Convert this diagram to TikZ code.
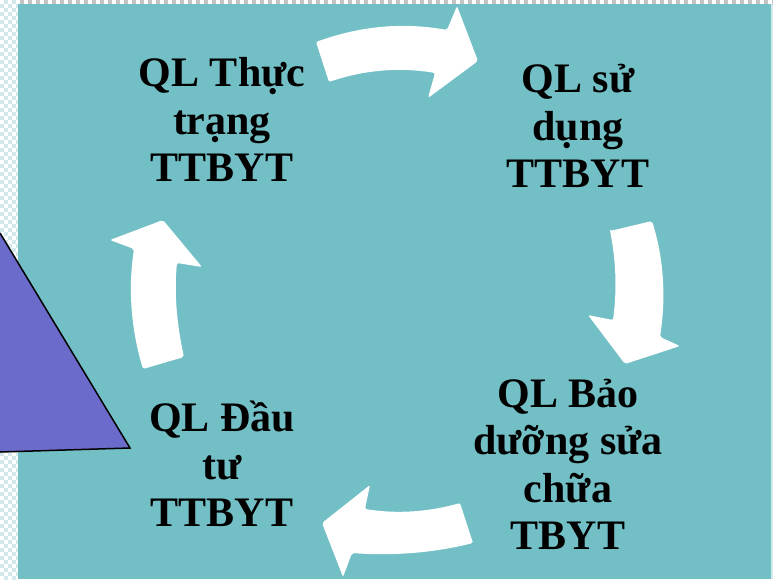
\documentclass[tikz,border=0pt]{standalone}
\usepackage{fontspec}
\setmainfont{Liberation Serif}
\definecolor{nen}{HTML}{72BFC6}
\definecolor{tim}{HTML}{6B6BCC}
\definecolor{ocaro}{HTML}{D3E9EC}
\definecolor{ocaroxam}{HTML}{C4C4C4}
\tikzset{>=stealth}

\begin{document}
\begin{tikzpicture}[x=1pt,y=-1pt,
    muiten/.style={fill=white,rounded corners=2pt},
    chu/.style={font=\fontsize{42}{47.5}\selectfont\bfseries,align=center,inner sep=0pt,anchor=south}]
    \useasboundingbox (0,0) rectangle (773,579);
    \fill[white] (0,0) rectangle (773,579);
    \foreach \r in {0,...,144}
      \foreach \c in {0,...,4}{
        \pgfmathtruncatemacro\le{mod(\r+\c,2)}
        \ifnum\le=1 \fill[ocaro] (\c*4,\r*4) rectangle ++(4,4);\fi}
    \foreach \c in {5,...,193}{
        \pgfmathtruncatemacro\le{mod(\c,2)}
        \ifnum\le=1 \fill[ocaroxam] (\c*4,0) rectangle ++(4,3.5);\fi}
    \fill[ocaro] (771,3.5) rectangle (773,579);
    \fill[nen] (18,3.5) rectangle (771,579);
    \filldraw[fill=tim,draw=black,line width=1.5pt] (0,233) -- (130,448) -- (0,452);
    \fill[muiten] (316,42) .. controls (360,26) and (403,22) .. (447,30) -- (457,6) -- (478,61)
      -- (428,98) -- (435,73) .. controls (400,67) and (364,70) .. (329,82) -- cycle;
    \fill[muiten] (610,231) -- (652,221) .. controls (664,259) and (666,298) .. (660,337) -- (680,346)
      -- (625,364) -- (588,315) -- (613,320) .. controls (617,290) and (616,261) .. (610,231) -- cycle;
    \fill[muiten] (473,543) -- (460,503) .. controls (428,512) and (397,514) .. (365,509) -- (370,485)
      -- (322,523) -- (343,577) -- (352,553) .. controls (393,556) and (433,553) .. (473,543) -- cycle;
    \fill[muiten] (143,369) -- (184,357) .. controls (177,325) and (174,294) .. (177,263) -- (202,267)
      -- (163,220) -- (110,240) -- (134,249) .. controls (128,289) and (131,329) .. (143,369) -- cycle;
    \node[chu] (thuctrang) at (222,182) {QL Thực\\trạng\\TTBYT};
    \node[chu] (sudung) at (578,188) {QL sử\\dụng\\TTBYT};
    \node[chu] (baoduong) at (568,550) {QL Bảo\\dưỡng sửa\\chữa\\TBYT};
    \node[chu] (dautu) at (222,527) {QL Đầu\\tư\\TTBYT};
\end{tikzpicture}
\end{document}
